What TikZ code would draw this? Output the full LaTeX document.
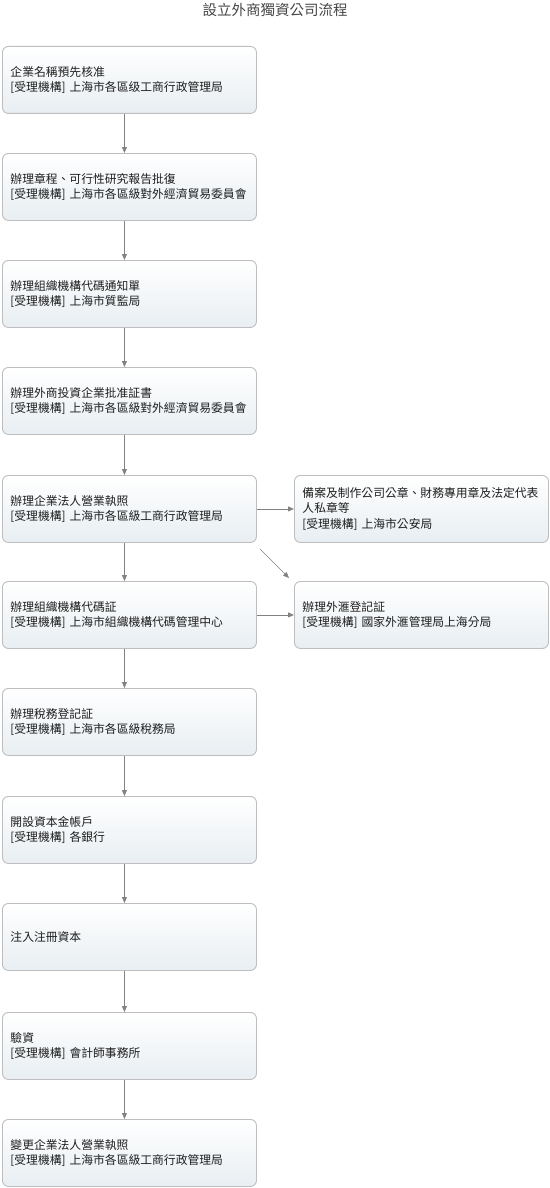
\documentclass[tikz,border=0pt]{standalone}
\usepackage{fontspec}
\newfontfamily\cjk{Noto Sans CJK TC}
\usetikzlibrary{arrows.meta}
\definecolor{boxline}{RGB}{190,190,190}
\definecolor{boxbot}{RGB}{232,238,242}
\definecolor{txt}{RGB}{30,30,30}
\definecolor{conn}{RGB}{130,130,130}
\definecolor{ttl}{RGB}{70,70,70}
\tikzset{
  stepbox/.style={draw=boxline, line width=0.9pt, rounded corners=6pt,
    top color=white, bottom color=boxbot, anchor=north west,
    minimum width=254pt, minimum height=67pt, text width=238pt,
    inner xsep=8pt, inner ysep=2pt, align=left, text=txt,
    font=\cjk\fontsize{11.8}{15.5}\selectfont},
  link/.style={draw=conn, line width=0.8pt, -{Triangle[length=6pt,width=5pt]}}
}
\begin{document}
\begin{tikzpicture}[x=1pt,y=-1pt]
\useasboundingbox (0,0) rectangle (549,1188);
\node[text=ttl, font=\cjk\fontsize{14.5}{16}\selectfont] (title) at (275,10) {設立外商獨資公司流程};
\node[stepbox] (b1) at (2,46) {企業名稱預先核准\\{[}受理機構] 上海市各區级工商行政管理局};
\node[stepbox] (b2) at (2,153) {辦理章程、可行性研究報告批復\\{[}受理機構] 上海市各區級對外經濟貿易委員會};
\node[stepbox] (b3) at (2,260) {辦理組織機構代碼通知單\\{[}受理機構] 上海市質監局};
\node[stepbox] (b4) at (2,367) {辦理外商投資企業批准証書\\{[}受理機構] 上海市各區級對外經濟貿易委員會};
\node[stepbox] (b5) at (2,475) {辦理企業法人營業執照\\{[}受理機構] 上海市各區級工商行政管理局};
\node[stepbox] (b6) at (2,581) {辦理組織機構代碼証\\{[}受理機構] 上海市組織機構代碼管理中心};
\node[stepbox] (b7) at (2,688) {辦理稅務登記証\\{[}受理機構] 上海市各區級稅務局};
\node[stepbox] (b8) at (2,796) {開設資本金帳戶\\{[}受理機構] 各銀行};
\node[stepbox] (b9) at (2,903) {注入注冊資本};
\node[stepbox] (b10) at (2,1012) {驗資\\{[}受理機構] 會計師事務所};
\node[stepbox] (b11) at (2,1119) {變更企業法人營業執照\\{[}受理機構] 上海市各區級工商行政管理局};
\node[stepbox] (r1) at (294,475) {備案及制作公司公章、財務專用章及法定代表\\人私章等\\{[}受理機構] 上海市公安局};
\node[stepbox] (r2) at (294,581) {辦理外滙登記証\\{[}受理機構] 國家外滙管理局上海分局};
\coordinate (d1) at (260,549);
\coordinate (d2) at (289,578);
\foreach \a/\b in {b1/b2,b2/b3,b3/b4,b4/b5,b5/b6,b6/b7,b7/b8,b8/b9,b9/b10,b10/b11}
  \draw[link] ([xshift=-5pt]\a.south) -- ([xshift=-5pt]\b.north);
\draw[link] (b5) -- (r1);
\draw[link] (b6) -- (r2);
\draw[link, line width=0.6pt] (d1) -- (d2);
\end{tikzpicture}
\end{document}
